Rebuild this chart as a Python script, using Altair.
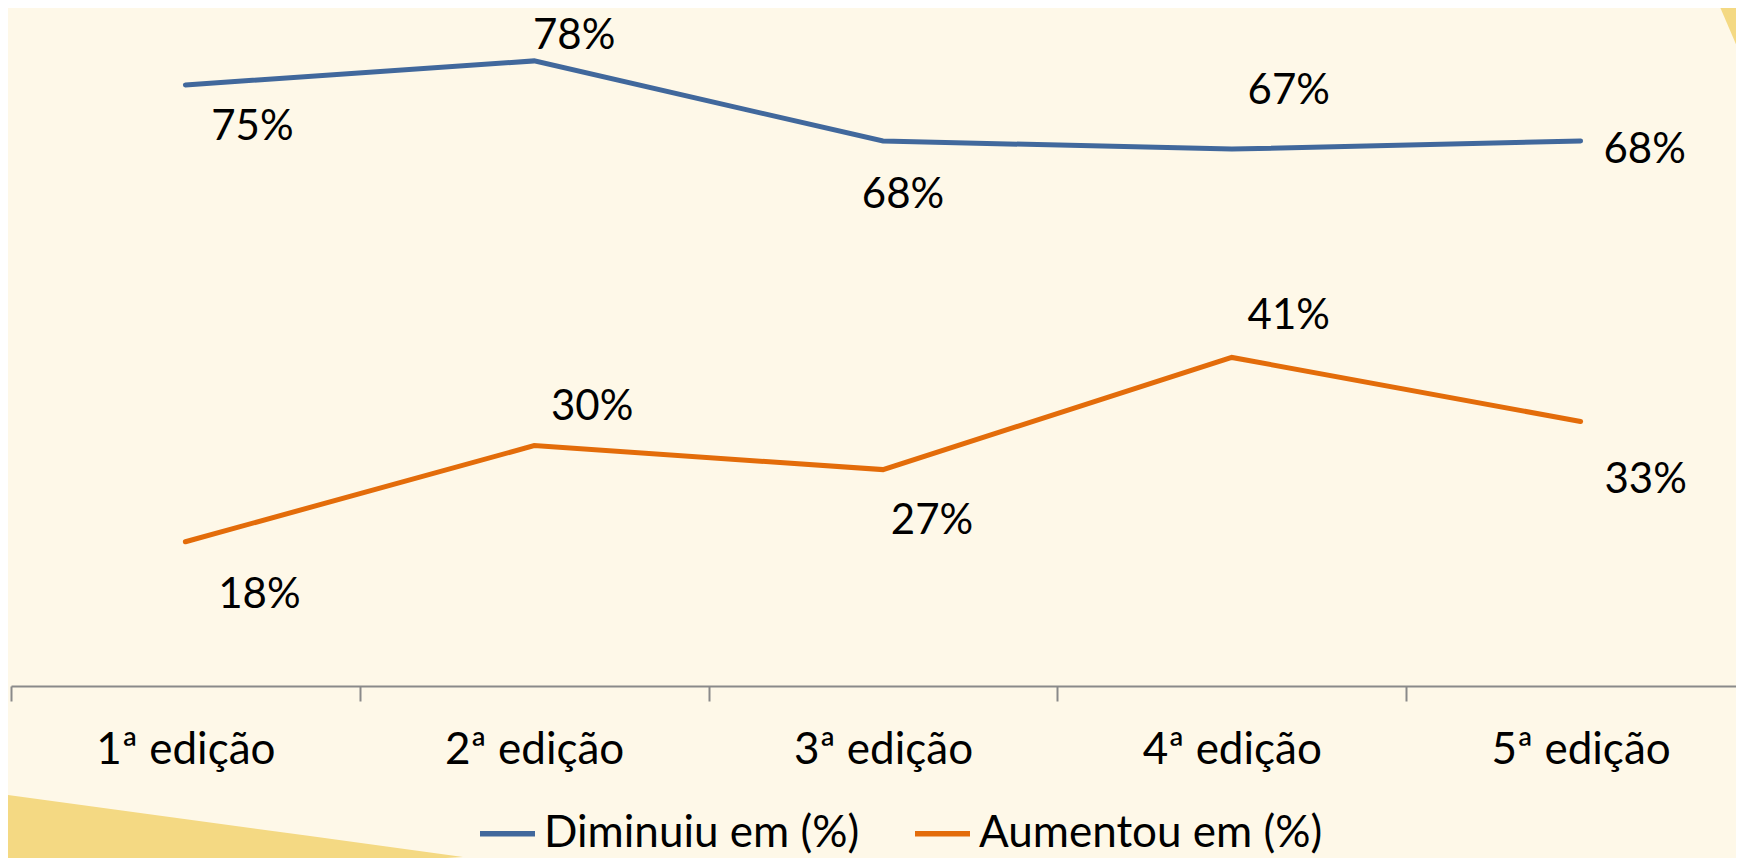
import altair as alt
import pandas as pd

# ---- data ----
categories = ["1ª edição", "2ª edição", "3ª edição", "4ª edição", "5ª edição"]
diminuiu = [75, 78, 68, 67, 68]
aumentou = [18, 30, 27, 41, 33]
series_names = ["Diminuiu em (%)", "Aumentou em (%)"]
series_colors = ["#41689C", "#E36C0A"]

# ---- label offsets (styling only) ----
label_dx = {"Diminuiu em (%)": [67, 40, 20, 57, 64],
            "Aumentou em (%)": [74, 58, 49, 57, 65]}
label_dy = {"Diminuiu em (%)": [42, -25, 54, -58, 9],
            "Aumentou em (%)": [53, -39, 51, -41, 58]}

# ---- decorative background shapes (pixel space, not data) ----
decor_bl_x = [-8, 302, 455]
decor_bl_y = [786, 828, 849]
decor_bl_y2 = [870, 858, 849]
decor_tr_x = [1709, 1736]
decor_tr_y = [-8, -8]
decor_tr_y2 = [-8, 55]

BG = "#FEF8E8"
DECOR = "#F4D983"
FONT = "Lato"
AXIS_GREY = "#8A8A8A"

rows = []
for name, vals in zip(series_names, [diminuiu, aumentou]):
    for c, v in zip(categories, vals):
        rows.append({"edicao": c, "valor": v, "serie": name})
df = pd.DataFrame(rows)

x_enc = alt.X(
    "edicao:N",
    sort=categories,
    scale=alt.Scale(type="band", domain=categories, range=[3, 1747],
                    paddingInner=0, paddingOuter=0),
    axis=alt.Axis(title=None, tickBand="extent", labelAngle=0,
                  labelFont=FONT, labelFontSize=44, labelColor="black",
                  labelPadding=27, tickSize=15, tickColor=AXIS_GREY,
                  tickWidth=2, domainColor=AXIS_GREY, domainWidth=2,
                  grid=False),
)
y_enc = alt.Y("valor:Q", scale=alt.Scale(domain=[0, 84.6], nice=False, zero=True),
              axis=None)

lines = alt.Chart(df).mark_line(strokeWidth=5, strokeCap="round").encode(
    x=x_enc,
    y=y_enc,
    color=alt.Color(
        "serie:N",
        sort=series_names,
        scale=alt.Scale(domain=series_names, range=series_colors),
        legend=alt.Legend(
            title=None, orient="none", legendX=469, legendY=795,
            direction="horizontal", symbolType="stroke", symbolSize=3025,
            symbolStrokeWidth=5.5, labelFont=FONT, labelFontSize=44,
            labelColor="black", labelLimit=800, labelOffset=6,
            columnPadding=44, padding=0,
        ),
    ),
)

text_layers = []
for name, vals in zip(series_names, [diminuiu, aumentou]):
    for i, (c, v) in enumerate(zip(categories, vals)):
        d = pd.DataFrame({"edicao": [c], "valor": [v], "lab": [f"{v}%"]})
        t = alt.Chart(d).mark_text(
            font=FONT, fontSize=42, color="black", align="center",
            baseline="middle", dx=label_dx[name][i], dy=label_dy[name][i],
        ).encode(x=alt.X("edicao:N", sort=categories), y="valor:Q", text="lab:N")
        text_layers.append(t)

main = alt.layer(lines, *text_layers)

bl = alt.Chart(pd.DataFrame({"x": decor_bl_x, "y": decor_bl_y, "y2": decor_bl_y2})).mark_area(
    color=DECOR, interpolate="linear").encode(
    x=alt.X("x:Q", scale=None, axis=None),
    y=alt.Y("y:Q", scale=None, axis=None),
    y2="y2:Q",
)
tr = alt.Chart(pd.DataFrame({"x": decor_tr_x, "y": decor_tr_y, "y2": decor_tr_y2})).mark_area(
    color=DECOR, interpolate="linear").encode(
    x=alt.X("x:Q", scale=None, axis=None),
    y=alt.Y("y:Q", scale=None, axis=None),
    y2="y2:Q",
)

chart = alt.layer(bl, tr, main).resolve_scale(
    x="independent", y="independent"
).properties(
    width=1728, height=678,
    autosize=alt.AutoSizeParams(type="none"),
    padding={"left": 0, "top": 0, "right": 0, "bottom": 172},
    background=BG,
).configure_view(stroke=None)

chart.save("out.html", embed_options={"renderer": "svg", "actions": False})
